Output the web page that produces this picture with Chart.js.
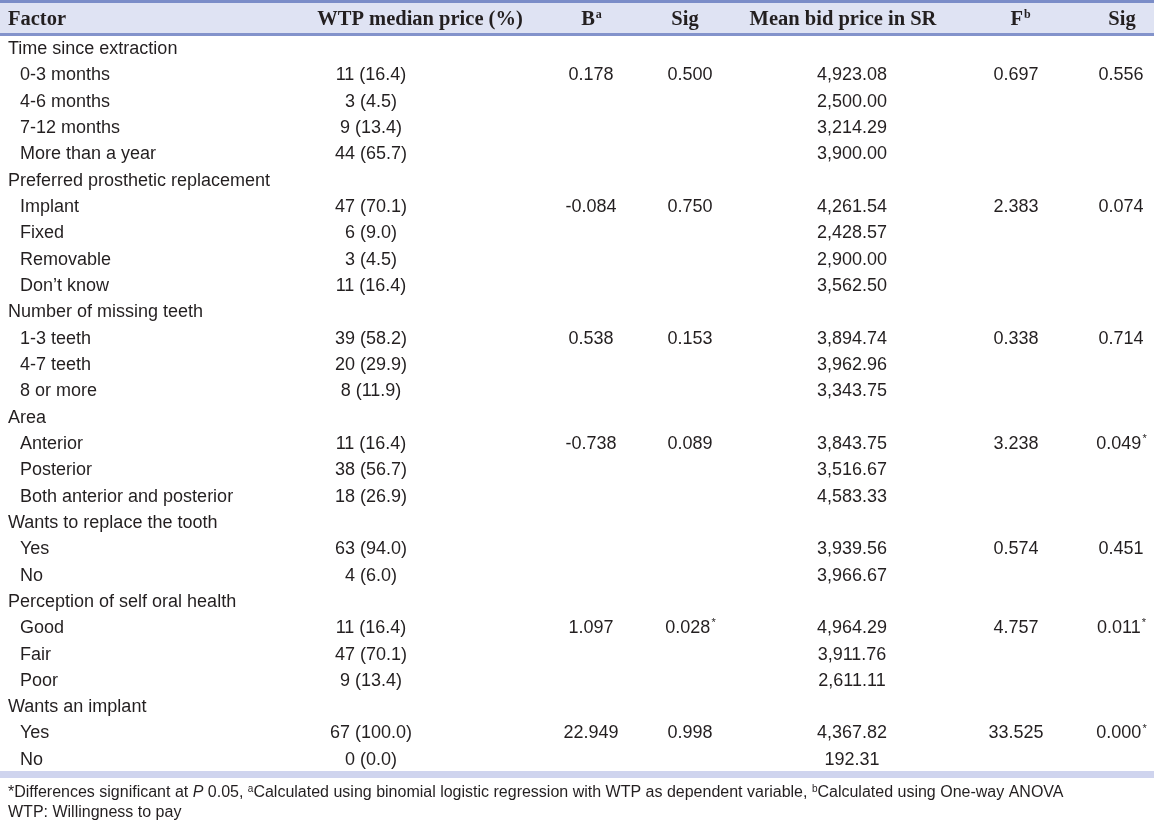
<!DOCTYPE html>
<html lang="en">
<head>
    <meta charset="UTF-8">
    <title>WTP factors table</title>
    <style>
        body {
            margin: 0;
            padding: 0;
            background: #fff;
        }

        #tableContainer {
            width: 1154px;
            height: 822px;
        }
    </style>
</head>
<body>
    <div id="tableContainer">
        <canvas id="tableChart" width="1154" height="822"></canvas>
    </div>

    <script src="https://cdn.jsdelivr.net/npm/chart.js"></script>
    <script>
        // Table content, one array per column
        const rowLabels = [
            "Time since extraction", "0-3 months", "4-6 months", "7-12 months", "More than a year",
            "Preferred prosthetic replacement", "Implant", "Fixed", "Removable", "Don\u2019t know",
            "Number of missing teeth", "1-3 teeth", "4-7 teeth", "8 or more",
            "Area", "Anterior", "Posterior", "Both anterior and posterior",
            "Wants to replace the tooth", "Yes", "No",
            "Perception of self oral health", "Good", "Fair", "Poor",
            "Wants an implant", "Yes", "No"
        ];
        const groupRows = [0, 5, 10, 14, 18, 21, 25];

        const wtpMedian = [
            "", "11 (16.4)", "3 (4.5)", "9 (13.4)", "44 (65.7)",
            "", "47 (70.1)", "6 (9.0)", "3 (4.5)", "11 (16.4)",
            "", "39 (58.2)", "20 (29.9)", "8 (11.9)",
            "", "11 (16.4)", "38 (56.7)", "18 (26.9)",
            "", "63 (94.0)", "4 (6.0)",
            "", "11 (16.4)", "47 (70.1)", "9 (13.4)",
            "", "67 (100.0)", "0 (0.0)"
        ];
        const bCoef = [
            "", "0.178", "", "", "",
            "", "-0.084", "", "", "",
            "", "0.538", "", "",
            "", "-0.738", "", "",
            "", "", "",
            "", "1.097", "", "",
            "", "22.949", ""
        ];
        const bSig = [
            "", "0.500", "", "", "",
            "", "0.750", "", "", "",
            "", "0.153", "", "",
            "", "0.089", "", "",
            "", "", "",
            "", "0.028*", "", "",
            "", "0.998", ""
        ];
        const meanBid = [
            "", "4,923.08", "2,500.00", "3,214.29", "3,900.00",
            "", "4,261.54", "2,428.57", "2,900.00", "3,562.50",
            "", "3,894.74", "3,962.96", "3,343.75",
            "", "3,843.75", "3,516.67", "4,583.33",
            "", "3,939.56", "3,966.67",
            "", "4,964.29", "3,911.76", "2,611.11",
            "", "4,367.82", "192.31"
        ];
        const fStat = [
            "", "0.697", "", "", "",
            "", "2.383", "", "", "",
            "", "0.338", "", "",
            "", "3.238", "", "",
            "", "0.574", "",
            "", "4.757", "", "",
            "", "33.525", ""
        ];
        const fSig = [
            "", "0.556", "", "", "",
            "", "0.074", "", "", "",
            "", "0.714", "", "",
            "", "0.049*", "", "",
            "", "0.451", "",
            "", "0.011*", "", "",
            "", "0.000*", ""
        ];

        const headers = [
            { text: "Factor" }, { text: "WTP median price (%)" }, { text: "B", sup: "a" },
            { text: "Sig" }, { text: "Mean bid price in SR" }, { text: "F", sup: "b" }, { text: "Sig" }
        ];

        // Layout (pixels)
        const colX = [8, 371, 591, 690, 852, 1016, 1121];
        const headerX = [8, 420, 591, 685, 843, 1020, 1122];
        const subIndent = 20;
        const bodyFont = '18px "Liberation Sans", Arial, sans-serif';
        const smallFont = '11px "Liberation Sans", Arial, sans-serif';
        const headFont = 'bold 20.5px "Liberation Serif", "Times New Roman", serif';
        const noteFont = '16px "Liberation Sans", Arial, sans-serif';
        const noteSupFont = '10px "Liberation Sans", Arial, sans-serif';

        const columns = [rowLabels, wtpMedian, bCoef, bSig, meanBid, fStat, fSig];

        const datasets = columns.map((col, c) => ({
            label: c === 0 ? "Factor" : headers[c].text,
            data: col.map((v, i) => ({ x: colX[c], y: i, text: v }))
                     .filter(p => p.text !== ""),
            pointRadius: 0,
            showLine: false
        }));

        // draw "0.028*" style: number plus small raised asterisk
        function drawCell(ctx, text, x, y, align) {
            let main = text, star = "";
            if (text.endsWith("*")) {
                main = text.slice(0, -1);
                star = "*";
            }
            ctx.font = bodyFont;
            const w1 = ctx.measureText(main).width;
            ctx.font = smallFont;
            const w2 = star ? ctx.measureText(star).width : 0;
            let left = align === "left" ? x : x - (w1 + w2) / 2;
            ctx.textAlign = "left";
            ctx.textBaseline = "middle";
            ctx.font = bodyFont;
            ctx.fillText(main, left, y);
            if (star) {
                ctx.font = smallFont;
                ctx.fillText(star, left + w1 + 1, y - 5);
            }
        }

        const tablePlugin = {
            id: "tableText",
            beforeDraw(chart) {
                const ctx = chart.ctx;
                ctx.save();
                ctx.fillStyle = "#ffffff";
                ctx.fillRect(0, 0, chart.width, chart.height);
                // header band
                ctx.fillStyle = "#dfe3f3";
                ctx.fillRect(0, 0, chart.width, 36);
                ctx.fillStyle = "#7b8dc8";
                ctx.fillRect(0, 0, chart.width, 3);
                ctx.fillStyle = "#8393cb";
                ctx.fillRect(0, 33, chart.width, 3);
                // bottom band
                ctx.fillStyle = "#cfd4ee";
                ctx.fillRect(0, 771, chart.width, 7);
                ctx.restore();
            },
            afterDatasetsDraw(chart) {
                const ctx = chart.ctx;
                ctx.save();
                ctx.fillStyle = "#231f20";
                chart.data.datasets.forEach((ds, c) => {
                    const meta = chart.getDatasetMeta(c);
                    meta.data.forEach((pt, k) => {
                        const item = ds.data[k];
                        if (c === 0) {
                            const isGroup = groupRows.includes(item.y);
                            drawCell(ctx, item.text, isGroup ? pt.x : subIndent, pt.y, "left");
                        } else {
                            drawCell(ctx, item.text, pt.x, pt.y, "center");
                        }
                    });
                });
                ctx.restore();
            },
            afterDraw(chart) {
                const ctx = chart.ctx;
                ctx.save();
                ctx.fillStyle = "#231f20";
                ctx.textBaseline = "middle";
                headers.forEach((h, c) => {
                    ctx.font = headFont;
                    const w = ctx.measureText(h.text).width;
                    ctx.font = 'bold 12px "Liberation Serif", serif';
                    const ws = h.sup ? ctx.measureText(h.sup).width : 0;
                    const left = c === 0 ? headerX[c] : headerX[c] - (w + ws) / 2;
                    ctx.textAlign = "left";
                    ctx.font = headFont;
                    ctx.fillText(h.text, left, 20);
                    if (h.sup) {
                        ctx.font = 'bold 12px "Liberation Serif", serif';
                        ctx.fillText(h.sup, left + w + 1, 15);
                    }
                });

                // footnotes
                const note1 = [
                    ["*Differences significant at ", noteFont],
                    ["P", 'italic ' + noteFont],
                    [" 0.05, ", noteFont],
                    ["a", noteSupFont, -4],
                    ["Calculated using binomial logistic regression with WTP as dependent variable, ", noteFont],
                    ["b", noteSupFont, -4],
                    ["Calculated using One-way ANOVA", noteFont]
                ];
                let x = 8;
                note1.forEach(([t, f, dy]) => {
                    ctx.font = f;
                    ctx.fillText(t, x, 793 + (dy || 0));
                    x += ctx.measureText(t).width;
                });
                ctx.font = noteFont;
                ctx.fillText("WTP: Willingness to pay", 8, 813);
                ctx.restore();
            }
        };

        new Chart(document.getElementById("tableChart"), {
            type: "scatter",
            data: { datasets: datasets },
            options: {
                responsive: false,
                animation: false,
                events: [],
                layout: { padding: { top: 36, bottom: 49, left: 0, right: 0 } },
                plugins: {
                    legend: { display: false },
                    tooltip: { enabled: false }
                },
                scales: {
                    x: { type: "linear", min: 0, max: 1154, display: false },
                    y: { type: "linear", min: -0.5, max: rowLabels.length - 0.5, reverse: true, display: false }
                }
            },
            plugins: [tablePlugin]
        });
    </script>
</body>
</html>
